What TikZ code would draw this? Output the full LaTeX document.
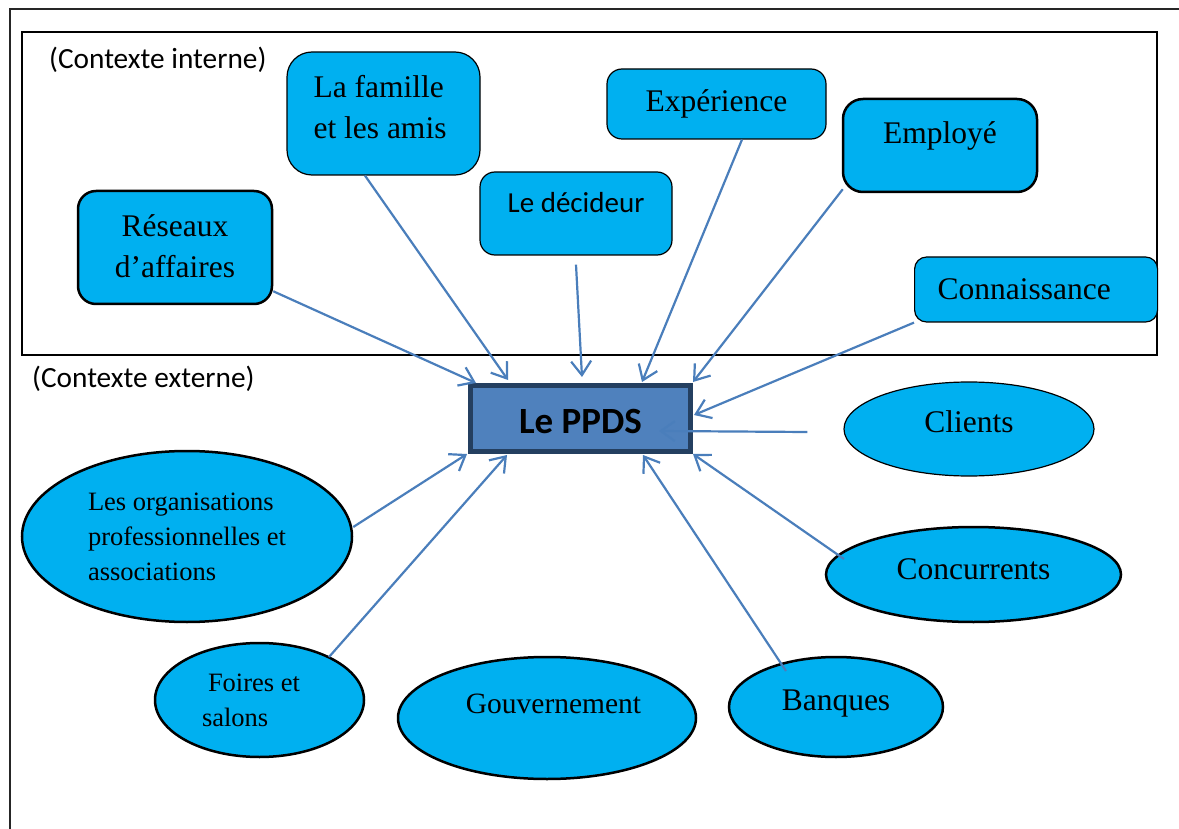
\documentclass[tikz,border=0pt]{standalone}
\usepackage{fontspec}
\setmainfont{Liberation Serif}
\newfontfamily\calib{Carlito}
\usetikzlibrary{arrows.meta,shapes.geometric,calc}
\definecolor{boxblue}{HTML}{00B0F0}
\definecolor{ppdsfill}{HTML}{4F81BD}
\definecolor{ppdsedge}{HTML}{243F60}
\definecolor{arrowblue}{HTML}{4A7EBB}
\tikzset{
  rbox/.style={draw=black, fill=boxblue, line width=1.2pt, inner sep=0pt, anchor=base, font=\fontsize{31.5}{41}\selectfont},
  rboxthick/.style={rbox, line width=2.5pt},
  ell/.style={ellipse, draw=black, fill=boxblue, line width=2.5pt, inner sep=0pt, font=\fontsize{31.5}{41}\selectfont},
  link/.style={draw=arrowblue, line width=2.2pt, -{Straight Barb[length=14pt,width=20pt]}},
  ctx/.style={anchor=base west, inner sep=0pt, font=\calib\fontsize{29.3}{35}\selectfont},
}
\begin{document}
\begin{tikzpicture}[x=1pt,y=-1pt]
\useasboundingbox (0,0) rectangle (1179,829);
% frames
\draw[line width=2pt, draw=black!85] (10,829) -- (10,9) -- (1179,9);
\draw[line width=1.2pt] (22,32) rectangle (1157,355);
\node[ctx] (interne) at (49,69) {(Contexte interne)};
\node[ctx] (externe) at (32,387) {(Contexte externe)};
% internal boxes
\node[rboxthick, rounded corners=18pt, minimum width=194pt, text height=87pt, text depth=26pt] (reseaux) at (175,278)
  {\begin{tabular}[b]{@{}c@{}}Réseaux\\d’affaires\end{tabular}};
\node[rbox, rounded corners=25pt, minimum width=193pt, text height=86.3pt, text depth=36.7pt] (famille) at (383.5,138.3)
  {\begin{tabular}[b]{@{}l@{}}La famille\\et les amis\end{tabular}\hspace*{7pt}};
\node[rbox, rounded corners=15pt, minimum width=192pt, text height=40.7pt, text depth=42.3pt, font=\calib\fontsize{29}{35}\selectfont] (decideur) at (576,212.7) {Le décideur};
\node[rbox, rounded corners=15pt, minimum width=219pt, text height=42.7pt, text depth=27.3pt] (experience) at (716.5,111.7) {Expérience};
\node[rboxthick, rounded corners=20pt, minimum width=194pt, text height=45pt, text depth=48pt] (employe) at (940,144) {Employé};
\node[rbox, rounded corners=12pt, anchor=base west, inner xsep=23pt, text width=197pt, align=left, text height=43pt, text depth=22pt] (connaissance) at (914,300) {Connaissance};
% central box
\node[draw=ppdsedge, fill=ppdsfill, line width=5pt, inner sep=0pt, anchor=base, minimum width=220pt, text height=47.8pt, text depth=18.2pt, font=\calib\bfseries\fontsize{37}{43}\selectfont] (ppds) at (580.5,433.3) {Le PPDS};
% external ellipses
\node[ell, line width=1.2pt, anchor=base, minimum width=250pt, minimum height=94pt, text height=20pt, text depth=12.6pt] (clients) at (969,432.7) {Clients};
\node[ell, anchor=base, minimum width=295pt, minimum height=95pt, text height=20pt, text depth=10.4pt] (concurrents) at (973.5,579.3) {Concurrents};
\node[ell, anchor=base, minimum width=214pt, minimum height=100pt, text height=20pt, text depth=14pt] (banques) at (836,710) {Banques};
\node[ell, anchor=base, minimum width=298pt, minimum height=122pt, text height=15pt, text depth=25pt, font=\fontsize{29.5}{35}\selectfont] (gouvernement) at (547,713) {\hspace*{13pt}Gouvernement};
\node[ell, minimum width=209pt, minimum height=114pt, align=left, font=\fontsize{26.5}{35}\selectfont] (foires) at (259.5,700) {\hspace*{6pt}Foires et\hspace*{17pt}\\salons};
\node[ell, minimum width=330pt, minimum height=171pt, align=left, font=\fontsize{26.5}{35}\selectfont] (organisations) at (187,536.5) {Les organisations\\professionnelles et\\associations};
% connectors
\draw[link] ($(reseaux.south east)+(0,-14)$) -- ($(ppds.center)+(-104.5,-35.5)$);
\draw[link] ($(famille.south)+(-18.5,0)$) -- ($(ppds.center)+(-72.5,-38.5)$);
\draw[link] ($(decideur.south)+(0,9)$) -- ($(ppds.center)+(1.5,-41.5)$);
\draw[link] ($(experience.south)+(25.5,0)$) -- ($(ppds.center)+(61.5,-36.5)$);
\draw[link] ($(employe.south west)+(1,-4)$) -- ($(ppds.center)+(112.5,-36.5)$);
\draw[link] (connaissance.south west) -- ($(ppds.center)+(113.5,-3.5)$);
\draw[link] ($(clients.west)+(-36,3)$) -- ($(ppds.center)+(78.5,12.5)$);
\draw[link] ($(concurrents.center)+(-129.5,-15.5)$) -- ($(ppds.center)+(112.5,35.5)$);
\draw[link] ($(banques.center)+(-50,-36)$) -- ($(ppds.center)+(62.5,36.5)$);
\draw[link] ($(organisations.east)+(0,-9.5)$) -- ($(ppds.center)+(-113.5,35.5)$);
\draw[link] ($(foires.center)+(69.5,-43)$) -- ($(ppds.center)+(-73.5,36.5)$);
\end{tikzpicture}
\end{document}
